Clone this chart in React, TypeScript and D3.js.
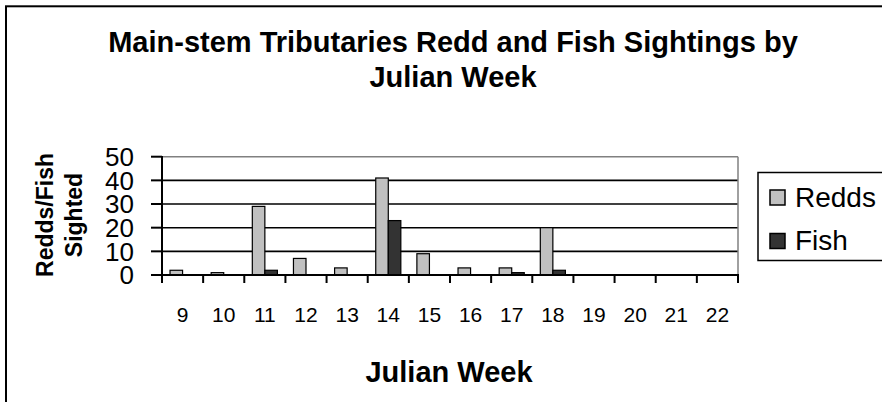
import * as React from "react";
import * as d3 from "d3";

const weeks = ["9", "10", "11", "12", "13", "14", "15", "16", "17", "18", "19", "20", "21", "22"];
const series = ["Redds", "Fish"];
const redds = [2, 1, 29, 7, 3, 41, 9, 3, 3, 20, 0, 0, 0, 0];
const fish = [0, 0, 2, 0, 0, 23, 0, 0, 1, 2, 0, 0, 0, 0];
const yTicks = [0, 10, 20, 30, 40, 50];
const colors = ["#c0c0c0", "#333333"];

const font = "'Liberation Sans', Arial, sans-serif";

export default function App() {
  const width = 882;
  const height = 402;
  const left = 162;
  const right = 738;
  const top = 156.7;
  const bottom = 275;

  const x0 = d3.scaleBand().domain(weeks).range([left, right]).padding(0);
  const x1 = d3
    .scaleBand()
    .domain(series)
    .range([0, x0.bandwidth()])
    .paddingInner(0)
    .paddingOuter(0.64);
  const y = d3.scaleLinear().domain([0, 50]).range([bottom, top]);

  const values = [redds, fish];

  const bars = [];
  series.forEach((s, si) => {
    weeks.forEach((w, i) => {
      const v = values[si][i];
      if (!v) return;
      bars.push(
        <rect
          key={s + w}
          x={x0(w) + x1(s)}
          y={y(v)}
          width={x1.bandwidth()}
          height={y(0) - y(v)}
          fill={colors[si]}
          stroke="#000"
          strokeWidth={1.2}
        />
      );
    });
  });

  const boundaries = weeks.map((w) => x0(w)).concat([right]);

  return (
    <svg
      width={width}
      height={height}
      style={{ position: "absolute", left: 0, top: 0, display: "block", background: "#fff" }}
      fontFamily={font}
    >
      <rect x={0} y={0} width={width} height={height} fill="#fff" />
      {/* outer frame, cut off on right and bottom */}
      <rect x={6} y={6.3} width={width + 20} height={height + 20} fill="none" stroke="#000" strokeWidth={2} />

      <text x={453} y={52} textAnchor="middle" fontSize={29} fontWeight="bold">
        Main-stem Tributaries Redd and Fish Sightings by
      </text>
      <text x={453} y={87} textAnchor="middle" fontSize={29} fontWeight="bold">
        Julian Week
      </text>

      {/* grid lines */}
      {yTicks.slice(1, -1).map((t) => (
        <line key={"g" + t} x1={left} x2={right} y1={y(t)} y2={y(t)} stroke="#000" strokeWidth={1.6} />
      ))}
      <line x1={left} x2={right} y1={y(50)} y2={y(50)} stroke="#808080" strokeWidth={1.5} />
      <line x1={right} x2={right} y1={y(50)} y2={bottom} stroke="#808080" strokeWidth={1.5} />

      {bars}

      {/* axes */}
      <line x1={left} x2={left} y1={y(50) - 0.7} y2={bottom + 8} stroke="#000" strokeWidth={2} />
      <line x1={left} x2={right + 1} y1={bottom} y2={bottom} stroke="#000" strokeWidth={2} />
      {yTicks.map((t) => (
        <g key={"yt" + t}>
          <line x1={left - 11} x2={left} y1={y(t)} y2={y(t)} stroke="#000" strokeWidth={2} />
          <text x={134} y={y(t)} dy="0.36em" textAnchor="end" fontSize={26}>
            {t}
          </text>
        </g>
      ))}
      {boundaries.map((b, i) => (
        <line key={"xt" + i} x1={b} x2={b} y1={bottom} y2={bottom + 8} stroke="#000" strokeWidth={2} />
      ))}
      {weeks.map((w) => (
        <text key={"xl" + w} x={x0(w) + x0.bandwidth() / 2} y={322} textAnchor="middle" fontSize={21}>
          {w}
        </text>
      ))}

      <text x={449} y={382} textAnchor="middle" fontSize={29} fontWeight="bold">
        Julian Week
      </text>
      <text transform="translate(53,215) rotate(-90)" textAnchor="middle" fontSize={23} fontWeight="bold">
        Redds/Fish
      </text>
      <text transform="translate(82,215) rotate(-90)" textAnchor="middle" fontSize={23} fontWeight="bold">
        Sighted
      </text>

      {/* legend */}
      <rect x={758} y={172.5} width={140} height={88} fill="#fff" stroke="#000" strokeWidth={1.5} />
      {series.map((s, i) => (
        <g key={"lg" + s}>
          <rect x={770} y={190 + i * 43.5} width={15} height={15} fill={colors[i]} stroke="#000" strokeWidth={1.5} />
          <text x={795} y={206.5 + i * 43.5} fontSize={28}>
            {s}
          </text>
        </g>
      ))}
    </svg>
  );
}
